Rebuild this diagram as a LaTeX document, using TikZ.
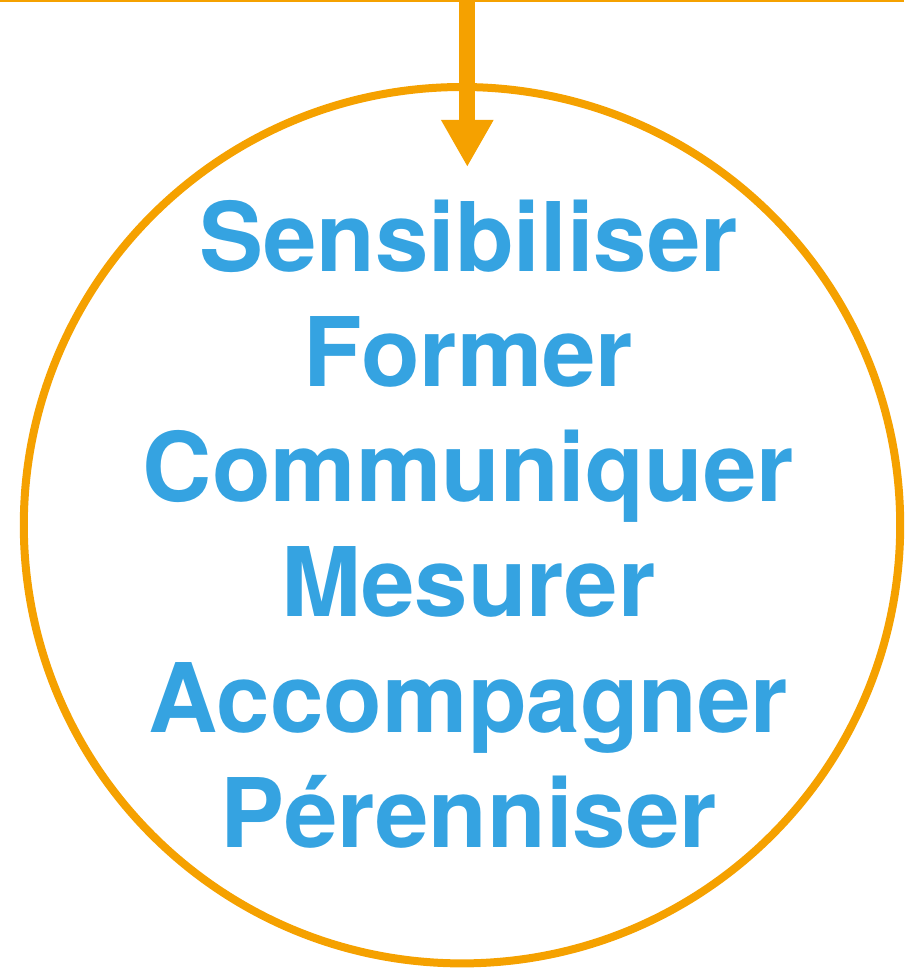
\documentclass[tikz,border=0pt]{standalone}
\usepackage{fontspec}
\newfontfamily\heros{TeX Gyre Heros}
\usetikzlibrary{arrows.meta}
\definecolor{ringorange}{RGB}{245,161,0}
\definecolor{wordblue}{RGB}{53,163,225}

\begin{document}
\begin{tikzpicture}[x=0.5pt,y=-0.5pt,
    word/.style={anchor=base,inner sep=0pt,text=wordblue,
      font=\heros\bfseries\fontsize{48}{48}\selectfont},
    ring/.style={circle,draw=ringorange,line width=4pt,
      minimum size=438.2pt,inner sep=0pt},
    flow/.style={ringorange,line width=8pt,
      -{Triangle[length=23.5pt,width=24.5pt]}}]
  \useasboundingbox (0,0) rectangle (904,968);
  \draw
    (462,525.2) node[ring] (ring){}
    (468.5,271) node[word] (sens){Sensibiliser}
    (468.5,386.25) node[word] (form){Former}
    (468.5,501.5) node[word] (comm){Communiquer}
    (468.5,616.75) node[word] (mesu){Mesurer}
    (468.5,732) node[word] (acco){Accompagner}
    (468.5,847.25) node[word] (pere){Pérenniser};
  % bar along the top edge
  \draw[ringorange,line width=1pt] (0,1) -- (904,1);
  \coordinate (top) at (467.3,0);
  \coordinate (tip) at (467.3,167);
  \draw[flow] (top) -- (tip);
\end{tikzpicture}
\end{document}
